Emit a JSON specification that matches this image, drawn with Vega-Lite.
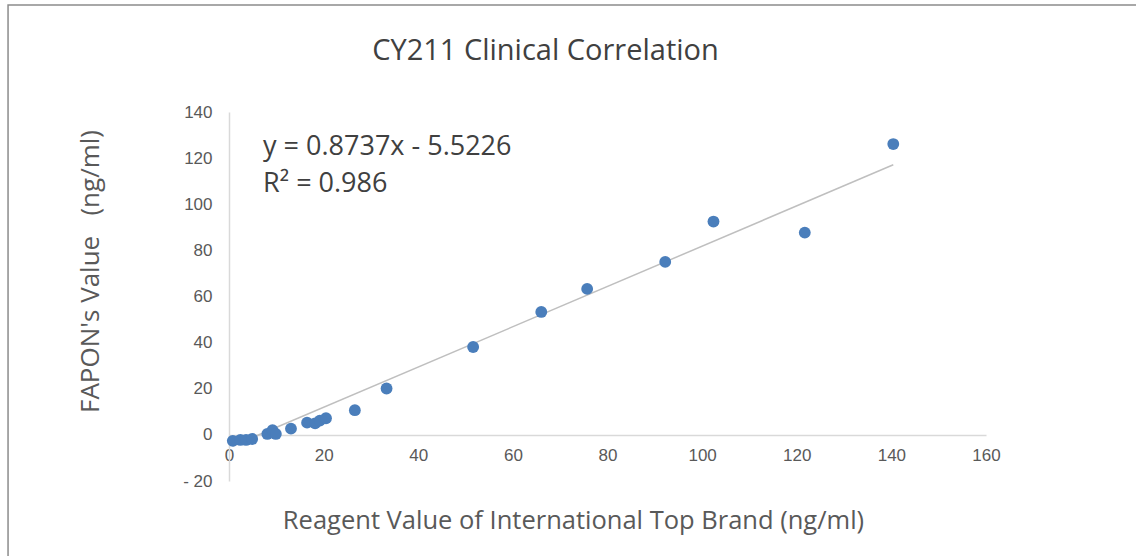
{
  "$schema": "https://vega.github.io/schema/vega-lite/v6.json",
  "width": 757,
  "height": 369,
  "autosize": {"type": "none"},
  "padding": {"left": 229, "top": 112, "right": 150, "bottom": 75},
  "background": "white",
  "config": {
    "view": {"stroke": null},
    "font": "Open Sans"
  },
  "title": {
    "text": "CY211 Clinical Correlation",
    "font": "Open Sans",
    "fontSize": 29,
    "fontWeight": "normal",
    "color": "#404040",
    "anchor": "middle",
    "dx": -62,
    "offset": 0,
    "dy": 62
  },
  "datasets": {
    "points": [
      {"x": 0.8, "y": -2.6},
      {"x": 2.4, "y": -2.2},
      {"x": 3.6, "y": -2.2},
      {"x": 4.9, "y": -1.8},
      {"x": 8.1, "y": 0.4},
      {"x": 9.2, "y": 2.0},
      {"x": 9.9, "y": 0.4},
      {"x": 13.1, "y": 2.7},
      {"x": 16.5, "y": 5.3},
      {"x": 18.2, "y": 5.0},
      {"x": 19.2, "y": 6.2},
      {"x": 20.5, "y": 7.2},
      {"x": 26.6, "y": 10.7},
      {"x": 33.3, "y": 20.1},
      {"x": 51.6, "y": 38.1},
      {"x": 66.0, "y": 53.3},
      {"x": 75.7, "y": 63.3},
      {"x": 92.2, "y": 75.0},
      {"x": 102.4, "y": 92.5},
      {"x": 121.7, "y": 87.7},
      {"x": 140.4, "y": 126.1}
    ],
    "trend": [
      {"x": 0.8, "y": -4.8},
      {"x": 140.4, "y": 117.1}
    ],
    "single": [{"label": "eq"}]
  },
  "data": {"name": "points"},
  "layer": [
    {
      "data": {"name": "single"},
      "mark": {"type": "rect", "fill": null, "stroke": "#8c8c8c", "strokeWidth": 1.5, "clip": false},
      "encoding": {
        "x": {"datum": -46.7, "type": "quantitative"},
        "x2": {"datum": 210},
        "y": {"datum": 186.4, "type": "quantitative"},
        "y2": {"datum": -70}
      }
    },
    {
      "data": {"name": "trend"},
      "mark": {"type": "line", "color": "#bfbfbf", "strokeWidth": 1.5},
      "encoding": {
        "x": {"field": "x", "type": "quantitative"},
        "y": {"field": "y", "type": "quantitative"}
      }
    },
    {
      "mark": {"type": "circle", "size": 140, "color": "#4A7EBB", "opacity": 1},
      "encoding": {
        "x": {
          "field": "x",
          "type": "quantitative",
          "scale": {"domain": [0, 160], "nice": false, "zero": false},
          "axis": {
            "values": [0, 20, 40, 60, 80, 100, 120, 140, 160],
            "offset": -46.125,
            "grid": false,
            "ticks": false,
            "domainColor": "#d9d9d9",
            "domainWidth": 1.5,
            "labelFont": "Liberation Sans",
            "labelFontSize": 17,
            "labelColor": "#595959",
            "labelPadding": 13,
            "labelFlush": false,
            "title": "Reagent Value of International Top Brand (ng/ml)",
            "titleFont": "Open Sans",
            "titleFontSize": 25.5,
            "titleFontWeight": "normal",
            "titleColor": "#595959",
            "titleX": 344,
            "titleY": 86,
            "titleAlign": "center",
            "titleBaseline": "middle"
          }
        },
        "y": {
          "field": "y",
          "type": "quantitative",
          "scale": {"domain": [-20, 140], "nice": false, "zero": false},
          "axis": {
            "values": [-20, 0, 20, 40, 60, 80, 100, 120, 140],
            "grid": false,
            "ticks": false,
            "domainColor": "#d9d9d9",
            "domainWidth": 1.5,
            "labelFont": "Liberation Sans",
            "labelFontSize": 17,
            "labelColor": "#595959",
            "labelPadding": 17,
            "labelFlush": false,
            "labelExpr": "datum.value < 0 ? '- ' + abs(datum.value) : datum.label",
            "title": "FAPON's Value \u00a0 (ng/ml)",
            "titleFont": "Open Sans",
            "titleFontSize": 26,
            "titleFontWeight": "normal",
            "titleColor": "#595959",
            "titleAngle": -90,
            "titleX": -139,
            "titleY": 159,
            "titleAlign": "center",
            "titleBaseline": "middle"
          }
        }
      }
    },
    {
      "data": {"name": "single"},
      "mark": {"type": "text", "align": "left", "baseline": "middle", "font": "Open Sans", "fontSize": 27, "color": "#404040", "lineHeight": 37},
      "encoding": {
        "x": {"datum": 7.2, "type": "quantitative"},
        "y": {"datum": 124.8, "type": "quantitative"},
        "text": {"value": ["y = 0.8737x - 5.5226", "R² = 0.986"]}
      }
    }
  ]
}
